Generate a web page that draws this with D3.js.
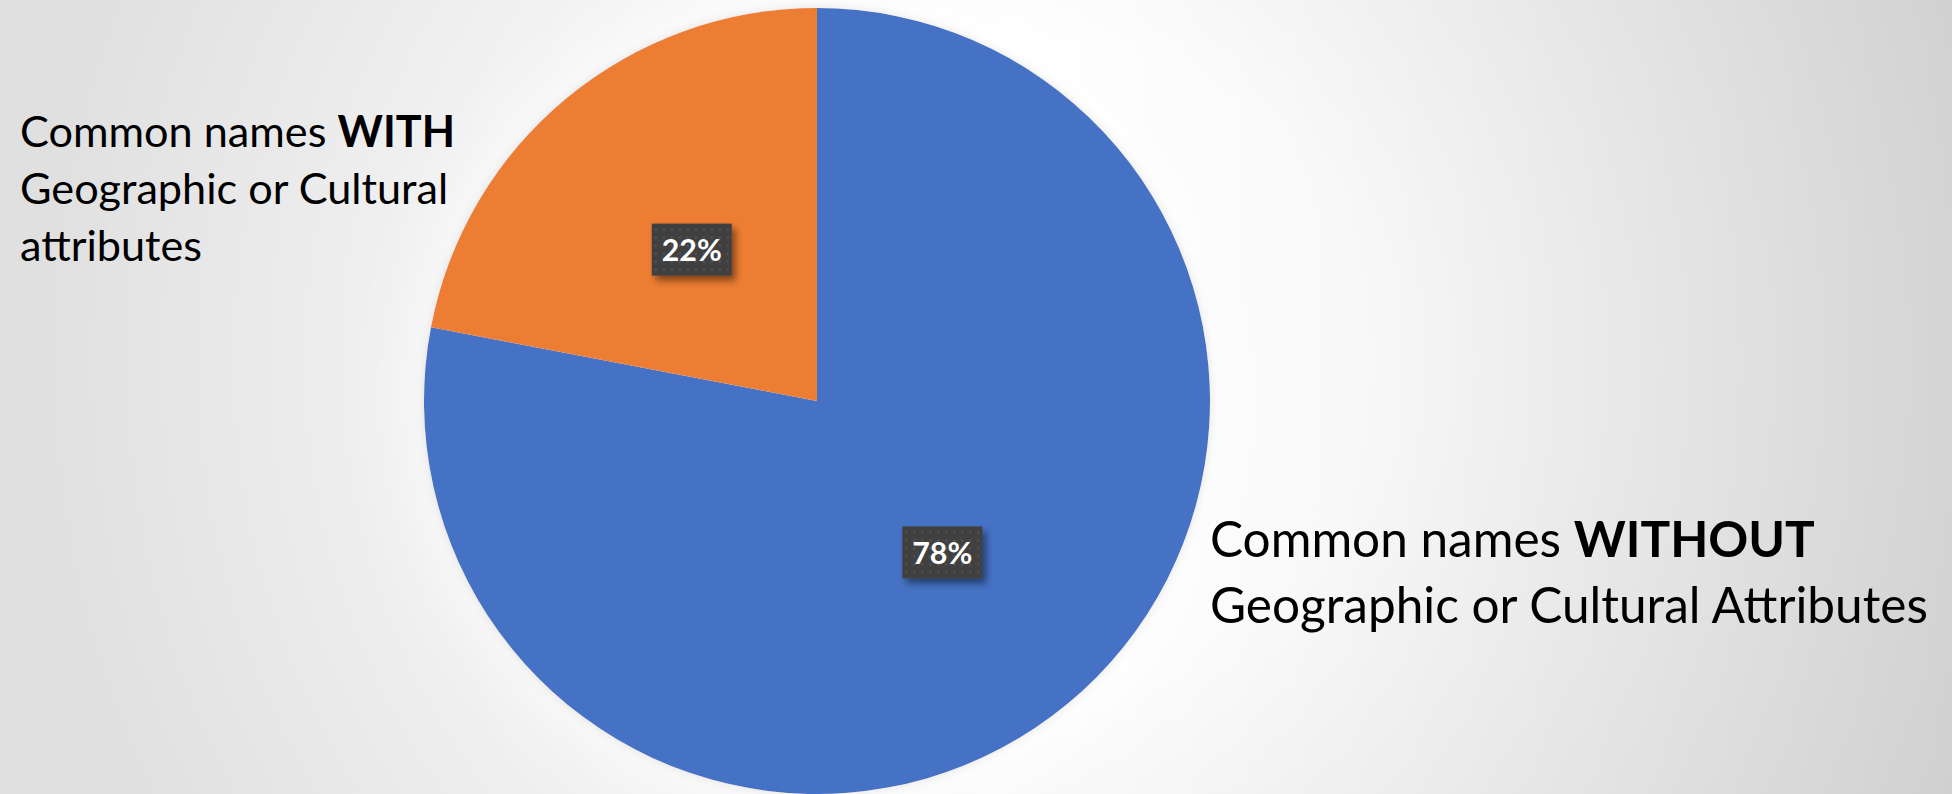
<!DOCTYPE html>
<html>
<head>
<meta charset="utf-8">
<script src="https://cdn.jsdelivr.net/npm/d3@7"></script>
<style>
  html, body { margin: 0; padding: 0; overflow: hidden; }
  svg { display: block; }
</style>
</head>
<body>
<svg id="chart" width="1952" height="794"></svg>
<script>
// Share of common names with / without geographic or cultural attributes
const categories = ["WITHOUT", "WITH"];
const values = [78, 22];
const percentLabels = ["78%", "22%"];
const sliceColors = ["#4472C4", "#ED7D31"];

// Category text, split into lines; each line is a list of [text, bold] runs
const labelWithout = [
  [["Common names ", false], ["WITHOUT", true]],
  [["Geographic or Cultural Attributes", false]]
];
const labelWith = [
  [["Common names ", false], ["WITH", true]],
  [["Geographic or Cultural", false]],
  [["attributes", false]]
];

const W = 1952, H = 794;
const cx = 817, cy = 401, R = 393;
const FONT = "Lato, 'Open Sans', sans-serif";

const svg = d3.select("#chart");
const defs = svg.append("defs");

// Background: soft light spot fading to grey
const bg = defs.append("radialGradient").attr("id", "bgGrad")
  .attr("gradientUnits", "userSpaceOnUse")
  .attr("cx", 1040).attr("cy", 360).attr("r", 1000);
bg.append("stop").attr("offset", 0).attr("stop-color", "#ffffff");
bg.append("stop").attr("offset", 0.32).attr("stop-color", "#ffffff");
bg.append("stop").attr("offset", 1).attr("stop-color", "#e0e0e0");

const shade = defs.append("linearGradient").attr("id", "shadeGrad")
  .attr("gradientUnits", "userSpaceOnUse")
  .attr("x1", 1000).attr("y1", 0).attr("x2", W).attr("y2", 0);
shade.append("stop").attr("offset", 0).attr("stop-color", "#000").attr("stop-opacity", 0);
shade.append("stop").attr("offset", 1).attr("stop-color", "#000").attr("stop-opacity", 0.07);

// Pie: white outer glow plus a tight soft shadow
const pieFx = defs.append("filter").attr("id", "pieFx")
  .attr("x", "-30%").attr("y", "-30%").attr("width", "160%").attr("height", "160%");
pieFx.append("feGaussianBlur").attr("in", "SourceAlpha").attr("stdDeviation", 40).attr("result", "glowBlur");
pieFx.append("feFlood").attr("flood-color", "#ffffff").attr("flood-opacity", 0.9).attr("result", "white");
pieFx.append("feComposite").attr("in", "white").attr("in2", "glowBlur").attr("operator", "in").attr("result", "glow");
pieFx.append("feGaussianBlur").attr("in", "SourceAlpha").attr("stdDeviation", 5).attr("result", "shBlur");
pieFx.append("feFlood").attr("flood-color", "#000000").attr("flood-opacity", 0.22).attr("result", "dark");
pieFx.append("feComposite").attr("in", "dark").attr("in2", "shBlur").attr("operator", "in").attr("result", "shadow");
const pm = pieFx.append("feMerge");
pm.append("feMergeNode").attr("in", "glow");
pm.append("feMergeNode").attr("in", "shadow");
pm.append("feMergeNode").attr("in", "SourceGraphic");

// Data label boxes: dark dotted fill with drop shadow
const dots = defs.append("pattern").attr("id", "dots")
  .attr("patternUnits", "userSpaceOnUse").attr("width", 8).attr("height", 8);
dots.append("rect").attr("width", 8).attr("height", 8).attr("fill", "#404040");
dots.append("rect").attr("x", 3).attr("y", 3).attr("width", 2).attr("height", 2).attr("fill", "#575757");

const boxFx = defs.append("filter").attr("id", "boxFx")
  .attr("x", "-30%").attr("y", "-30%").attr("width", "170%").attr("height", "170%");
boxFx.append("feDropShadow").attr("dx", 4).attr("dy", 5).attr("stdDeviation", 3.5)
  .attr("flood-color", "#000").attr("flood-opacity", 0.45);

svg.append("rect").attr("width", W).attr("height", H).attr("fill", "url(#bgGrad)");
svg.append("rect").attr("width", W).attr("height", H).attr("fill", "url(#shadeGrad)");

// Pie slices, clockwise from 12 o'clock
const pie = d3.pie().sort(null).value(d => d);
const arcs = pie(values);
const arc = d3.arc().innerRadius(0).outerRadius(R);

const g = svg.append("g").attr("transform", `translate(${cx},${cy})`);
g.append("g").attr("filter", "url(#pieFx)")
  .selectAll("path").data(arcs).join("path")
  .attr("d", arc)
  .attr("fill", (d, i) => sliceColors[i]);

// Percentage labels at the slice centroids
const boxW = 80, boxH = 52;
const lbl = g.selectAll("g.lbl").data(arcs).join("g").attr("class", "lbl")
  .attr("transform", d => { const [x, y] = arc.centroid(d); return `translate(${x},${y})`; });
lbl.append("rect")
  .attr("x", -boxW / 2).attr("y", -boxH / 2).attr("width", boxW).attr("height", boxH)
  .attr("fill", "url(#dots)").attr("filter", "url(#boxFx)");
lbl.append("text")
  .attr("text-anchor", "middle")
  .attr("font-family", FONT).attr("font-weight", 700).attr("fill", "#ffffff")
  .attr("font-size", 32)
  .text((d, i) => percentLabels[i])
  .each(function () {
    const t = d3.select(this);
    const w = this.getComputedTextLength();
    const fs = 32 * 60 / w;
    t.attr("font-size", fs).attr("y", fs * 0.37);
  });

// Category labels: font size fitted to the widest line
function drawLabel(lines, x, y0, targetWidth, spacing) {
  const base = 48;
  const t = svg.append("text").attr("font-family", FONT).attr("font-size", base).attr("fill", "#000");
  const lineEls = lines.map((runs, li) => {
    const line = t.append("tspan").attr("x", x);
    runs.forEach(([s, b]) => line.append("tspan").attr("font-weight", b ? 700 : 400).text(s));
    return line;
  });
  const widths = lineEls.map(l => l.node().getComputedTextLength());
  const fs = base * targetWidth / d3.max(widths);
  t.attr("font-size", fs);
  lineEls.forEach((l, li) => l.attr("y", y0 + li * spacing));
}

drawLabel(labelWith, 20, 147, 435, 57);
drawLabel(labelWithout, 1210, 557, 718, 66);
</script>
</body>
</html>
